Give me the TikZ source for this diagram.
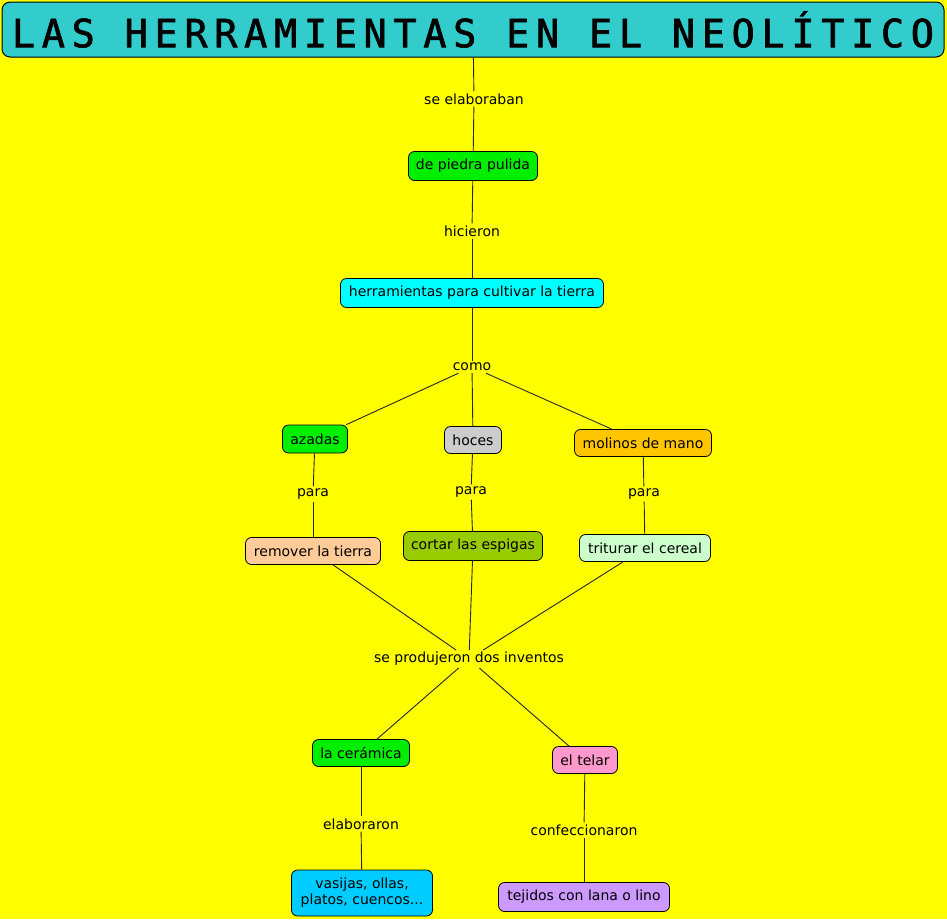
\documentclass[tikz,border=0pt]{standalone}
\usepackage{fontspec}
\setmainfont{DejaVu Sans}
\newfontfamily\titlefont[FakeStretch=0.8, LetterSpace=14, FakeBold=1.5]{DejaVu Sans Mono}
\usepackage{graphicx}
\definecolor{bgyellow}{RGB}{255,255,0}
\definecolor{titleteal}{RGB}{51,204,204}
\definecolor{cgreen}{RGB}{0,238,0}
\definecolor{ccyan}{RGB}{0,255,255}
\definecolor{cgray}{RGB}{204,204,204}
\definecolor{corange}{RGB}{255,198,0}
\definecolor{cpeach}{RGB}{255,204,153}
\definecolor{colive}{RGB}{153,204,0}
\definecolor{cmint}{RGB}{204,255,204}
\definecolor{cpink}{RGB}{255,153,204}
\definecolor{csky}{RGB}{0,204,255}
\definecolor{clav}{RGB}{204,153,255}
\tikzset{
  concept/.style={draw=black, line width=0.8pt, rounded corners=6pt, inner sep=0pt,
    font=\fontsize{14}{16}\selectfont, align=center, text=black},
  linklabel/.style={inner sep=2pt, fill=bgyellow, font=\fontsize{14}{16}\selectfont, text=black},
  conn/.style={line width=0.9pt, draw=black!85}
}
\begin{document}
\begin{tikzpicture}[x=1pt,y=-1pt]
\fill[bgyellow] (0,0) rectangle (947,919);
\useasboundingbox (0,0) rectangle (947,919);

\node[concept, fill=titleteal, minimum width=942, minimum height=55, line width=1pt, rounded corners=8pt] (title) at (473,29.5)
  {\resizebox{922pt}{36pt}{\titlefont LAS HERRAMIENTAS EN EL NEOLÍTICO}};

\node[linklabel] (l1) at (474,99) {se elaboraban};
\node[concept, fill=cgreen, minimum width=129, minimum height=29] (piedra) at (473,166) {de piedra pulida};
\node[linklabel] (l2) at (472,231) {hicieron};
\node[concept, fill=ccyan, minimum width=263, minimum height=29] (herr) at (472,293) {herramientas para cultivar la tierra};
\node[linklabel] (como) at (472,367) {como};

\node[concept, fill=cgreen, minimum width=65, minimum height=28] (azadas) at (315,439) {azadas};
\node[concept, fill=cgray, minimum width=57, minimum height=27] (hoces) at (473,440) {hoces};
\node[concept, fill=corange, minimum width=137, minimum height=27] (molinos) at (643,443) {molinos de mano};

\node[linklabel] (p1) at (313,494) {para};
\node[linklabel] (p2) at (471,492) {para};
\node[linklabel] (p3) at (644,494) {para};

\node[concept, fill=cpeach, minimum width=135, minimum height=27] (remover) at (313,551) {remover la tierra};
\node[concept, fill=colive, minimum width=139, minimum height=29] (cortar) at (473,546) {cortar las espigas};
\node[concept, fill=cmint, minimum width=131, minimum height=27] (triturar) at (645,548) {triturar el cereal};

\node[linklabel] (inv) at (469,659) {se produjeron dos inventos};

\node[concept, fill=cgreen, minimum width=97, minimum height=27] (ceramica) at (361,753) {la cerámica};
\node[concept, fill=cpink, minimum width=65, minimum height=27] (telar) at (585,760) {el telar};

\node[linklabel] (elab) at (361,824) {elaboraron};
\node[linklabel] (conf) at (584,830) {confeccionaron};

\node[concept, fill=csky, minimum width=141, minimum height=46] (vasijas) at (362,893) {vasijas, ollas,\\platos, cuencos...};
\node[concept, fill=clav, minimum width=171, minimum height=29] (tejidos) at (584,897) {tejidos con lana o lino};

\draw[conn] (title) -- (l1);
\draw[conn] (l1) -- (piedra);
\draw[conn] (piedra) -- (l2);
\draw[conn] (l2) -- (herr);
\draw[conn] (herr) -- (como);
\draw[conn] (como) -- (azadas);
\draw[conn] (como) -- (hoces);
\draw[conn] (como) -- (molinos);
\draw[conn] (azadas) -- (p1);
\draw[conn] (p1) -- (remover);
\draw[conn] (hoces) -- (p2);
\draw[conn] (p2) -- (cortar);
\draw[conn] (molinos) -- (p3);
\draw[conn] (p3) -- (triturar);
\draw[conn] (remover) -- (inv);
\draw[conn] (cortar) -- (inv);
\draw[conn] (triturar) -- (inv);
\draw[conn] (inv) -- (ceramica);
\draw[conn] (inv) -- (telar);
\draw[conn] (ceramica) -- (elab);
\draw[conn] (elab) -- (vasijas);
\draw[conn] (telar) -- (conf);
\draw[conn] (conf) -- (tejidos);
\end{tikzpicture}
\end{document}
